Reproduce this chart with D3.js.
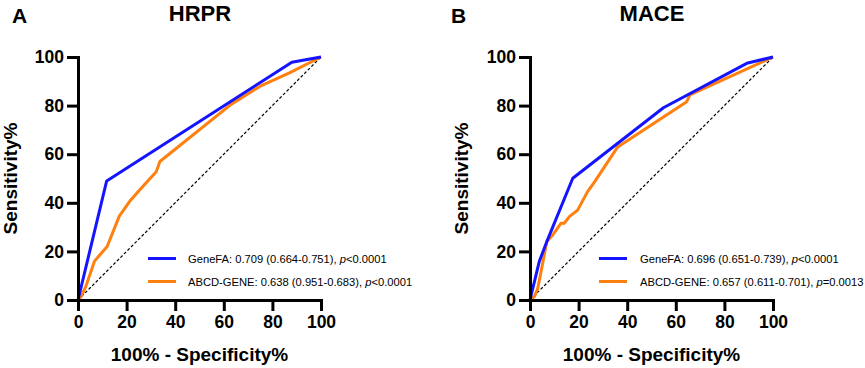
<!DOCTYPE html>
<html><head><meta charset="utf-8">
<script src="https://cdn.jsdelivr.net/npm/d3@7"></script>
<style>
html,body{margin:0;padding:0;background:#fff;}
svg{display:block;font-family:"Liberation Sans",Arial,sans-serif;}
</style></head>
<body>
<svg id="c" width="865" height="368"></svg>
<script>
// ---- data ----
const panelLetters = ["A", "B"];
const panelTitles = ["HRPR", "MACE"];
const xTicks = [0, 20, 40, 60, 80, 100];
const yTicks = [0, 20, 40, 60, 80, 100];
const xTitle = "100% - Specificity%";
const yTitle = "Sensitivity%";
const seriesNames = ["GeneFA", "ABCD-GENE"];
const seriesColors = ["#1414ff", "#ff7f0f"];

const hrprGeneFAx = [0, 11.8, 88, 100];
const hrprGeneFAy = [0, 49, 97.8, 100];
const hrprAbcdX = [0, 1, 3.2, 6.8, 12, 17, 21.2, 26, 32.2, 33.7, 63, 75, 87, 100];
const hrprAbcdY = [0, 1, 5.5, 16, 22, 34.5, 40.5, 46, 52.8, 57, 80.5, 88, 93.5, 100];

const maceGeneFAx = [0, 3.8, 6.9, 17.6, 54.9, 89.2, 100];
const maceGeneFAy = [0, 15.8, 24, 50.1, 79.1, 97.4, 100];
const maceAbcdX = [0, 1.8, 3.2, 5.2, 6.9, 9.3, 12.8, 14.1, 16.2, 19.6, 23.7, 26.5, 36.1, 64.5, 65.8, 100];
const maceAbcdY = [0, 1.4, 4.8, 15, 24, 26.7, 31.6, 31.6, 34.3, 37, 44.6, 48.5, 63, 81.6, 84.4, 100];

const hrprLegend = [
  ["GeneFA: 0.709 (0.664-0.751), ", "p", "<0.0001"],
  ["ABCD-GENE: 0.638 (0.951-0.683), ", "p", "<0.0001"]
];
const maceLegend = [
  ["GeneFA: 0.696 (0.651-0.739), ", "p", "<0.0001"],
  ["ABCD-GENE: 0.657 (0.611-0.701), ", "p", "=0.0013"]
];

const zip = (xs, ys) => xs.map((v, i) => [v, ys[i]]);

const panels = [
  {x0: 78, letterX: 12, titleX: 200, yTitleX: 17, legLineX: 148, legTextX: 188,
   series: [zip(hrprGeneFAx, hrprGeneFAy), zip(hrprAbcdX, hrprAbcdY)], legend: hrprLegend},
  {x0: 530, letterX: 451, titleX: 652, yTitleX: 468, legLineX: 599, legTextX: 640,
   series: [zip(maceGeneFAx, maceGeneFAy), zip(maceAbcdX, maceAbcdY)], legend: maceLegend}
];

const svg = d3.select("#c");
const W = 243, yTop = 57, yBot = 300;

panels.forEach((p, pi) => {
  const x = d3.scaleLinear().domain([0, 100]).range([p.x0, p.x0 + W]);
  const y = d3.scaleLinear().domain([0, 100]).range([yBot, yTop]);
  const g = svg.append("g");

  // diagonal reference
  g.append("line")
    .attr("x1", x(0)).attr("y1", y(0)).attr("x2", x(100)).attr("y2", y(100))
    .attr("stroke", "#000").attr("stroke-width", 1.2).attr("stroke-dasharray", "3,2");

  const line = d3.line().x(d => x(d[0])).y(d => y(d[1]));
  // orange first, then blue on top
  [1, 0].forEach(si => {
    g.append("path").datum(p.series[si])
      .attr("d", line).attr("fill", "none")
      .attr("stroke", seriesColors[si]).attr("stroke-width", 3)
      .attr("stroke-linejoin", "round");
  });

  // axes
  const ax = g.append("g").attr("transform", `translate(0,${yBot})`)
    .call(d3.axisBottom(x).tickValues(xTicks).tickSize(11).tickPadding(5).tickSizeOuter(0));
  const ay = g.append("g").attr("transform", `translate(${p.x0},0)`)
    .call(d3.axisLeft(y).tickValues(yTicks).tickSize(11).tickPadding(3).tickSizeOuter(0));
  [ax, ay].forEach(a => {
    a.select(".domain").attr("stroke", "#000").attr("stroke-width", 3).attr("stroke-linecap", "square");
    a.selectAll(".tick line").attr("stroke", "#000").attr("stroke-width", 3);
    a.selectAll(".tick text").attr("fill", "#000")
      .style("font-size", "17.5px").style("font-weight", "bold")
      .style("font-family", "'Liberation Sans',Arial,sans-serif");
  });

  // titles
  svg.append("text").attr("x", p.letterX).attr("y", 23)
    .style("font-size", "21px").style("font-weight", "bold").text(panelLetters[pi]);
  svg.append("text").attr("x", p.titleX).attr("y", 21).attr("text-anchor", "middle")
    .style("font-size", "22px").style("font-weight", "bold").text(panelTitles[pi]);
  svg.append("text").attr("x", x(50)).attr("y", 361).attr("text-anchor", "middle")
    .style("font-size", "19px").style("font-weight", "bold").text(xTitle);
  svg.append("text").attr("transform", `translate(${p.yTitleX},${(yTop + yBot) / 2}) rotate(-90)`)
    .attr("text-anchor", "middle")
    .style("font-size", "19px").style("font-weight", "bold").text(yTitle);

  // legend
  p.legend.forEach((parts, i) => {
    const ly = 258.5 + i * 23;
    svg.append("line").attr("x1", p.legLineX).attr("x2", p.legLineX + 28)
      .attr("y1", ly).attr("y2", ly)
      .attr("stroke", seriesColors[i]).attr("stroke-width", 3);
    const t = svg.append("text").attr("x", p.legTextX).attr("y", ly + 4)
      .style("font-size", "11.2px").attr("fill", "#000");
    t.append("tspan").text(parts[0]);
    t.append("tspan").style("font-style", "italic").text(parts[1]);
    t.append("tspan").text(parts[2]);
  });
});
</script>
</body></html>
